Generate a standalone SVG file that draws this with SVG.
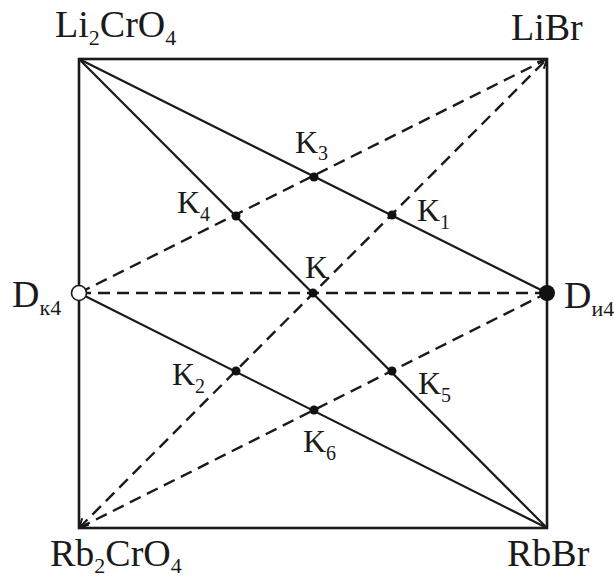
<svg xmlns="http://www.w3.org/2000/svg" width="614" height="577" viewBox="0 0 614 577" font-family="'Liberation Serif', 'DejaVu Serif', serif">
<style>
.frame{fill:none;stroke:#1a1a1a;stroke-width:2.6}
.solid{stroke:#1a1a1a;stroke-width:2.2;fill:none}
.dash{stroke:#1a1a1a;stroke-width:2.4;fill:none;stroke-dasharray:12 7}
.dot{fill:#111}
text{font-family:'Liberation Serif','DejaVu Serif',serif;fill:#1a1a1a}
.corner{font-size:38px}
.k{font-size:32px}
.sub{font-size:22px}
.ksub{font-size:20px}
</style>
<defs>
<marker id="arr" viewBox="0 0 12 12" refX="11" refY="6" markerWidth="11" markerHeight="11" markerUnits="userSpaceOnUse" orient="auto-start-reverse">
<path d="M1,1 L11,6 L1,11" fill="none" stroke="#1a1a1a" stroke-width="2.2" stroke-dasharray="none"/>
</marker>
</defs>
<rect class="frame" x="79" y="59" width="468" height="469"/>
<g id="connectors">
<line class="solid" x1="79" y1="59" x2="547" y2="293"/>
<line class="solid" x1="79" y1="59" x2="547" y2="528"/>
<line class="solid" x1="79" y1="293" x2="547" y2="528"/>
<line class="dash" x1="79" y1="293" x2="547" y2="59"/>
<line class="dash" x1="79" y1="293" x2="547" y2="293"/>
<line class="dash" x1="79" y1="528" x2="547" y2="293"/>
<line class="dash" x1="79" y1="528" x2="547" y2="59" marker-start="url(#arr)" marker-end="url(#arr)"/>
</g>
<g id="Li2CrO4"><text class="corner" x="55" y="37">Li<tspan class="sub" dy="8">2</tspan><tspan dy="-8">CrO</tspan><tspan class="sub" dy="8">4</tspan></text></g>
<g id="LiBr"><text class="corner" x="511" y="40">LiBr</text></g>
<g id="Rb2CrO4"><text class="corner" x="50" y="566">Rb<tspan class="sub" dy="7">2</tspan><tspan dy="-7">CrO</tspan><tspan class="sub" dy="7">4</tspan></text></g>
<g id="RbBr"><text class="corner" x="507" y="566">RbBr</text></g>
<g id="Dk4"><circle cx="79" cy="293" r="7.5" fill="#fff" stroke="#1a1a1a" stroke-width="1.6"/><text class="corner" x="12" y="307">D<tspan class="sub" dy="8">к4</tspan></text></g>
<g id="Di4"><circle cx="547" cy="293" r="8" class="dot"/><text class="corner" x="564" y="308">D<tspan class="sub" dy="8">и4</tspan></text></g>
<g id="K3"><circle cx="314" cy="177" r="4.5" class="dot"/><text class="k" x="295" y="153">K<tspan class="ksub" dy="7">3</tspan></text></g>
<g id="K4"><circle cx="236" cy="216" r="4.5" class="dot"/><text class="k" x="177" y="213">K<tspan class="ksub" dy="8">4</tspan></text></g>
<g id="K1"><circle cx="392" cy="215" r="4.5" class="dot"/><text class="k" x="417" y="221">K<tspan class="ksub" dy="8">1</tspan></text></g>
<g id="K"><circle cx="313" cy="293" r="4.5" class="dot"/><text class="k" x="305" y="278">K</text></g>
<g id="K2"><circle cx="236" cy="371" r="4.5" class="dot"/><text class="k" x="172" y="385">K<tspan class="ksub" dy="8">2</tspan></text></g>
<g id="K5"><circle cx="392" cy="371" r="4.5" class="dot"/><text class="k" x="418" y="394">K<tspan class="ksub" dy="8">5</tspan></text></g>
<g id="K6"><circle cx="314" cy="410" r="4.5" class="dot"/><text class="k" x="303" y="452">K<tspan class="ksub" dy="8">6</tspan></text></g>
</svg>
